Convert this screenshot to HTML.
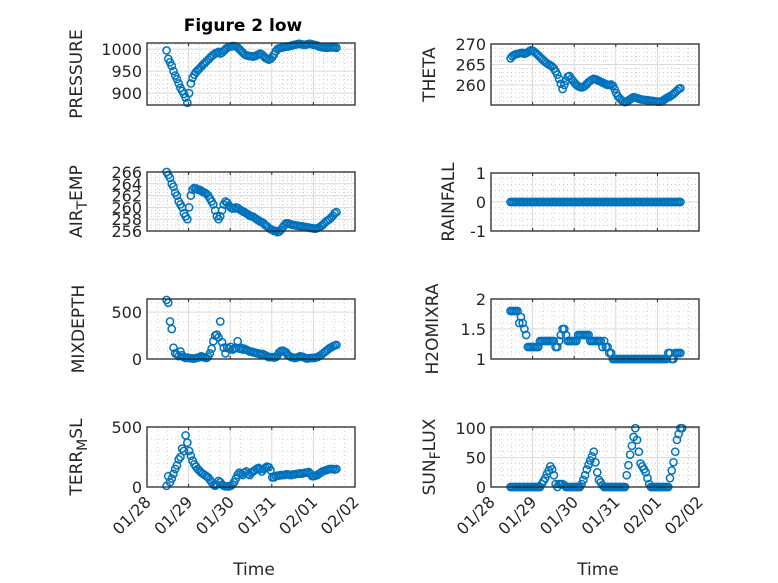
<!DOCTYPE html>
<html><head><meta charset="utf-8"><style>
html,body{margin:0;padding:0;background:#fff;}
svg{display:block;font-family:"DejaVu Sans","Liberation Sans",sans-serif;}
</style></head><body>
<svg id="fig" width="778" height="583" viewBox="0 0 778 583" xmlns="http://www.w3.org/2000/svg">
<rect width="778" height="583" fill="#fff"/>
<text x="243" y="31" text-anchor="middle" font-weight="bold" font-size="17" fill="#000">Figure 2 low</text>
</svg>
<script>
const xTickLabels = ["01/28","01/29","01/30","01/31","02/01","02/02"];
const startDay = 0.47;
const stepDay = 1/24;
const pressure = [997,978,970,962,950,940,932,922,912,905,898,890,878,
900,922,935,942,948,952,956,960,965,968,972,976,
980,984,987,990,992,994,990,992,996,1000,1003,1005,
1006,1007,1007,1006,1004,1000,996,992,988,986,985,984,
984,983,984,986,988,990,988,984,980,978,976,978,
982,988,995,1000,1002,1003,1004,1005,1006,1006,1007,1008,
1009,1010,1011,1012,1012,1011,1010,1010,1011,1012,1012,1011,
1010,1009,1008,1006,1005,1004,1004,1003,1003,1004,1004,1004,1004,1003];
const airTemp = [266,265.5,265,264,263.5,262.5,262,261,260.5,260,259,258.5,258,
260,262,263,263.3,263.2,263,263,262.8,262.6,262.5,262.3,262,
261.5,261,260.5,259.5,258.5,258,258.5,259.5,260.5,261,260.8,260.3,
260,259.8,259.8,260,259.9,259.7,259.5,259.3,259.2,259,258.8,258.6,
258.5,258.4,258.2,258,257.8,257.6,257.5,257.3,257,256.8,256.5,256.3,
256.2,256,256,255.8,255.9,256.2,256.6,257,257.3,257.3,257.2,257.1,
257,257,256.9,256.9,256.8,256.8,256.7,256.7,256.6,256.6,256.5,256.5,
256.4,256.4,256.5,256.6,256.8,257,257.3,257.6,257.8,258,258.3,258.6,259,259.2];
const theta = [266.5,267,267.3,267.5,267.6,267.7,267.8,267.8,267.6,267.8,268,268.3,268.5,
268.3,268,267.6,267.2,266.8,266.4,266,265.6,265.3,265,264.8,264.5,
264,263.3,262.5,261.5,260.3,259,260,261,262,262.2,261.5,261,
260.5,260,259.7,259.5,259.4,259.5,259.8,260.2,260.7,261,261.3,261.5,
261.4,261.2,261,260.8,260.6,260.4,260.2,260,260,260.1,259.8,259,
258,257.2,256.7,256.3,256,255.8,255.9,256.2,256.5,256.8,257,256.9,
256.8,256.6,256.5,256.4,256.4,256.3,256.3,256.2,256.1,256.1,256,256,
255.9,255.9,256,256.2,256.5,256.8,257,257.2,257.5,257.8,258.2,258.6,259,259.2];
const rainfall = [0,0,0,0,0,0,0,0,0,0,0,0,0,0,0,0,0,0,0,0,0,0,0,0,0,0,0,0,0,0,0,0,0,0,0,0,0,0,0,0,0,0,0,0,0,0,0,0,0,0,0,0,0,0,0,0,0,0,0,0,0,0,0,0,0,0,0,0,0,0,0,0,0,0,0,0,0,0,0,0,0,0,0,0,0,0,0,0,0,0,0,0,0,0,0,0,0,0,0];
const mixDepth = [630,600,400,320,120,60,50,30,80,40,20,10,15,
10,8,5,5,10,15,20,30,20,15,10,25,
60,110,190,250,260,230,400,180,120,60,120,110,
130,100,110,120,190,110,120,100,110,100,90,80,
80,70,70,60,60,50,55,50,40,30,20,20,
20,15,20,40,70,85,90,80,70,40,30,20,
15,10,15,20,30,25,20,10,5,8,10,12,
10,15,20,30,40,55,70,85,100,115,125,135,145,150];
const h2oMix = [1.8,1.8,1.8,1.8,1.8,1.6,1.7,1.6,1.5,1.4,1.2,1.2,1.2,
1.2,1.2,1.2,1.2,1.3,1.3,1.3,1.3,1.3,1.3,1.3,1.3,
1.3,1.2,1.2,1.3,1.4,1.5,1.5,1.4,1.3,1.3,1.3,1.3,
1.3,1.3,1.4,1.4,1.4,1.4,1.4,1.4,1.4,1.3,1.3,1.3,
1.3,1.3,1.3,1.3,1.2,1.3,1.2,1.2,1.1,1.1,1.0,1.0,
1,1,1,1,1,1,1,1,1,1,1,1,
1,1,1,1,1,1,1,1,1,1,1,1,
1,1,1,1,1,1,1.1,1.1,1,1,1.1,1.1,1.1,1.1];
const terrMsl = [10,90,40,70,110,150,180,230,250,320,300,430,370,
300,260,220,190,170,150,135,120,110,100,90,80,
60,40,20,10,20,50,40,20,10,5,5,5,
10,20,40,70,100,120,110,100,120,130,110,100,
120,130,140,150,160,150,130,150,160,170,165,140,
80,80,90,95,95,100,100,100,105,105,100,100,
105,105,110,110,115,110,115,120,120,125,110,90,
90,95,100,110,120,130,135,140,145,150,150,150,145,150];
const sunFlux = [0,0,0,0,0,0,0,0,0,0,0,0,0,
0,0,0,0,0,5,10,15,22,28,35,30,
20,5,0,5,5,5,3,0,0,0,0,0,
0,0,0,0,5,12,20,30,38,45,52,60,
42,25,12,8,3,0,0,0,0,0,0,0,
0,0,0,0,0,0,20,37,55,70,85,100,
80,60,40,35,30,25,15,5,0,0,0,0,
0,0,0,0,0,0,0,15,28,42,60,80,90,100,100];

const NS="http://www.w3.org/2000/svg";
const svg=document.getElementById('fig');
function mk(tag,attrs,parent){const e=document.createElementNS(NS,tag);for(const k in attrs)e.setAttribute(k,attrs[k]);(parent||svg).appendChild(e);return e;}

const panels=[
 {name:'pressure',data:pressure,x:147,y:43,w:208,h:62,ymin:873,ymax:1014,ticks:[900,950,1000],minor:10,label:['PRESSURE'],lx:82,bottom:false},
 {name:'theta',data:theta,x:491,y:44,w:208,h:61,ymin:255.1,ymax:270,ticks:[260,265,270],minor:1,label:['THETA'],lx:435,bottom:false},
 {name:'air-temp',data:airTemp,x:147,y:172,w:208,h:59,ymin:256,ymax:266,ticks:[256,258,260,262,264,266],minor:0.5,label:['AIR','T','EMP'],lx:82,bottom:false},
 {name:'rainfall',data:rainfall,x:491,y:173,w:208,h:58,ymin:-1,ymax:1,ticks:[-1,0,1],minor:0.2,label:['RAINFALL'],lx:454,bottom:false},
 {name:'mixdepth',data:mixDepth,x:147,y:299,w:208,h:60,ymin:0,ymax:640,ticks:[0,500],minor:100,label:['MIXDEPTH'],lx:84,bottom:false},
 {name:'h2omixra',data:h2oMix,x:491,y:299,w:208,h:60,ymin:1,ymax:2,ticks:[1,1.5,2],minor:0.1,label:['H2OMIXRA'],lx:438,bottom:false},
 {name:'terr-msl',data:terrMsl,x:147,y:427,w:208,h:60,ymin:0,ymax:500,ticks:[0,500],minor:100,label:['TERR','M','SL'],lx:82,bottom:true},
 {name:'sun-flux',data:sunFlux,x:491,y:427,w:208,h:60,ymin:0,ymax:102,ticks:[0,50,100],minor:10,label:['SUN','F','LUX'],lx:435,bottom:true}
];

panels.forEach(p=>{
  const g=mk('g',{});
  
  
  const xs=d=>p.x+d/5*p.w;
  const ys=v=>p.y+p.h-(v-p.ymin)/(p.ymax-p.ymin)*p.h;
  for(let d=0.25;d<5;d+=0.25){ if(Math.abs(d-Math.round(d))<1e-6)continue;
    const l=mk('line',{x1:xs(d),x2:xs(d),y1:p.y,y2:p.y+p.h,stroke:'#b0b0b0','stroke-width':0.6,'stroke-dasharray':'1,3'},g);
    
    
  }
  const m0=Math.ceil(p.ymin/p.minor-1e-6);
  for(let k=m0;k*p.minor<=p.ymax+1e-9;k++){const v=k*p.minor;
    if(p.ticks.some(t=>Math.abs(t-v)<1e-6))continue;
    const l=mk('line',{x1:p.x,x2:p.x+p.w,y1:ys(v),y2:ys(v),stroke:'#b0b0b0','stroke-width':0.6,'stroke-dasharray':'1,3'},g);
    
    
  }
  for(let d=1;d<5;d++){
    const l=mk('line',{x1:xs(d),x2:xs(d),y1:p.y,y2:p.y+p.h,stroke:'#d9d9d9','stroke-width':1},g);
    
    
    mk('line',{x1:xs(d),x2:xs(d),y1:p.y+p.h,y2:p.y+p.h-3,stroke:'#262626'},g);
    mk('line',{x1:xs(d),x2:xs(d),y1:p.y,y2:p.y+3,stroke:'#262626'},g);
  }
  p.ticks.forEach(t=>{
    const l=mk('line',{x1:p.x,x2:p.x+p.w,y1:ys(t),y2:ys(t),stroke:'#d9d9d9','stroke-width':1},g);
    
    
    const tx=mk('text',{x:p.x-5,y:ys(t)+6,'text-anchor':'end','font-size':16,fill:'#262626'},g);
    tx.textContent=String(t);
    
    
  });
  p.data.forEach((v,i)=>{
    const c=mk('circle',{cx:xs(startDay+i*stepDay),cy:ys(v),r:3.6,fill:'none',stroke:'#0072BD','stroke-width':1.5},g);
    
    
  });
  const box=mk('rect',{x:p.x,y:p.y,width:p.w,height:p.h,fill:'none',stroke:'#262626','stroke-width':1.3},g);
  
  
  const cy=p.y+p.h/2;
  const lab=mk('text',{x:p.lx,y:cy,'text-anchor':'middle','font-size':17,fill:'#262626',transform:`rotate(-90 ${p.lx} ${cy})`},g);
  
  
  if(p.label.length===1){lab.textContent=p.label[0];}
  else{
    const a=mk('tspan',{},lab);a.textContent=p.label[0];
    const b=mk('tspan',{dy:5,'font-size':14},lab);b.textContent=p.label[1];
    const c=mk('tspan',{dy:-5},lab);c.textContent=p.label[2];
  }
  if(p.bottom){
    xTickLabels.forEach((s,d)=>{
      const tx0=xs(d)+5, ty0=p.y+p.h+16;
      const t=mk('text',{x:tx0,y:ty0,'text-anchor':'end','font-size':16,fill:'#262626',transform:`rotate(-45 ${tx0} ${ty0})`},g);
      t.textContent=s;
      
      
    });
    const xl=mk('text',{x:p.x+p.w/2+3,y:575,'text-anchor':'middle','font-size':17,fill:'#262626'},g);
    xl.textContent='Time';
    
    
  }
});
</script>
</body></html>
